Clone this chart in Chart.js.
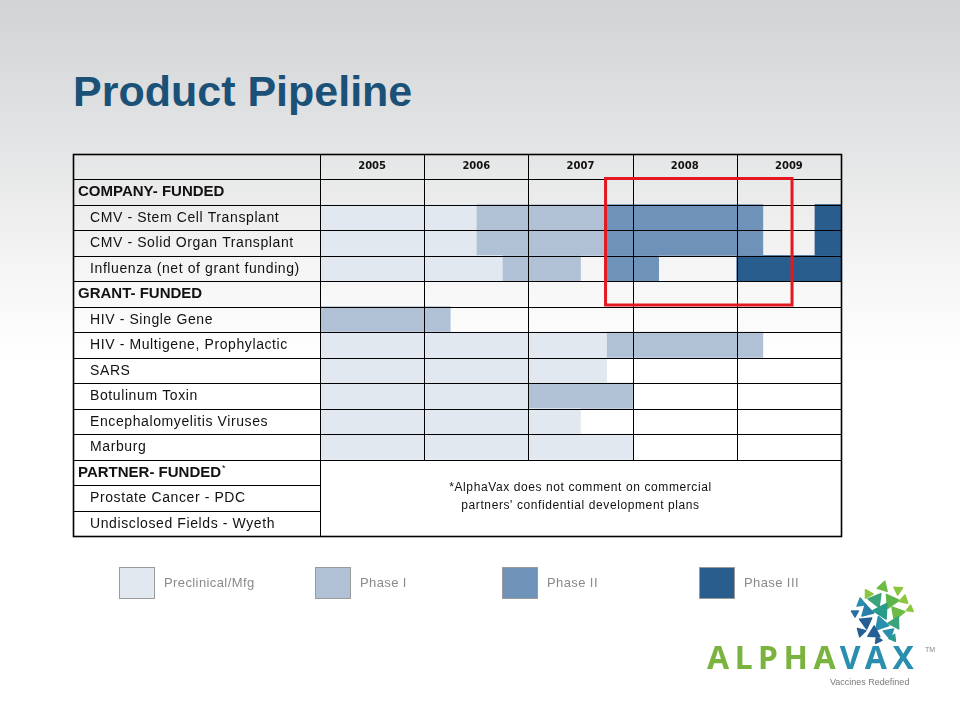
<!DOCTYPE html>
<html>
<head>
<meta charset="utf-8">
<script src="https://cdn.jsdelivr.net/npm/chart.js@4.4.1/dist/chart.umd.min.js"></script>
<style>
html,body{margin:0;padding:0;}
body{width:960px;height:720px;position:relative;overflow:hidden;
  background:linear-gradient(to bottom,#d2d3d5 0px,#e4e5e6 150px,#f4f4f4 260px,#ffffff 360px,#ffffff 720px);
  font-family:"Liberation Sans",Arial,sans-serif;}
#title{position:absolute;left:73px;top:70px;margin:0;font:bold 43px/42px "Liberation Sans",Arial,sans-serif;color:#1c5177;white-space:nowrap;}
#chart{position:absolute;left:0;top:0;}
.lg{position:absolute;top:567px;height:31px;display:flex;align-items:center;}
.lg .box{width:34px;height:30px;border:1px solid #9a9a9a;box-sizing:content-box;}
.lg .txt{margin-left:9px;font:13px "Liberation Sans",Arial,sans-serif;letter-spacing:0.4px;color:#8a8a8a;}
#logo{position:absolute;left:707px;top:641px;width:240px;height:60px;}
#logoText{position:absolute;left:0;top:0;font:bold 32px/32px "Noto Sans",Arial,sans-serif;letter-spacing:5.5px;white-space:nowrap;}
#logoText .g{color:#7ab43f;}
#logoText .b{color:#2a8fae;}
#tm{position:absolute;left:218px;top:5px;font:7px "Liberation Sans",Arial,sans-serif;color:#888;}
#tag{position:absolute;left:123px;top:36px;font:9px "Liberation Sans",Arial,sans-serif;color:#7a7a7a;white-space:nowrap;}
#dots{position:absolute;left:848px;top:578px;}
</style>
</head>
<body>
<h1 id="title">Product Pipeline</h1>
<canvas id="chart" width="960" height="720"></canvas>
<div id="legend"></div>
<svg id="dots" width="70" height="68" viewBox="848 582 70 68"></svg>
<div id="logo"><div id="logoText"><span class="g">ALPHA</span><span class="b">VAX</span></div><div id="tm">TM</div><div id="tag">Vaccines Redefined</div></div>
<script>
// ---------- data ----------
const rowLabels = [
  "COMPANY- FUNDED",
  "CMV - Stem Cell Transplant",
  "CMV - Solid Organ Transplant",
  "Influenza (net of grant funding)",
  "GRANT- FUNDED",
  "HIV - Single Gene",
  "HIV - Multigene, Prophylactic",
  "SARS",
  "Botulinum Toxin",
  "Encephalomyelitis Viruses",
  "Marburg",
  "PARTNER- FUNDED*",
  "Prostate Cancer - PDC",
  "Undisclosed Fields - Wyeth"
];
const sectionRows = [0, 4, 11];
const years = [2005, 2006, 2007, 2008, 2009];
const yearLabels = ["2005", "2006", "2007", "2008", "2009"];
const phaseNames = ["Preclinical/Mfg", "Phase I", "Phase II", "Phase III"];

const preclinical = [null, [2005, 2006.5], [2005, 2006.5], [2005, 2006.75], null, null,
  [2005, 2007.75], [2005, 2007.75], [2005, 2007], [2005, 2007.5], [2005, 2008], null, null, null];
const phase1 = [null, [2006.5, 2007.75], [2006.5, 2007.75], [2006.75, 2007.5], null, [2005, 2006.25],
  [2007.75, 2009.25], null, [2007, 2008], null, null, null, null, null];
const phase2 = [null, [2007.75, 2009.25], [2007.75, 2009.25], [2007.75, 2008.25], null, null,
  null, null, null, null, null, null, null, null];
const phase3 = [null, [2009.75, 2010], [2009.75, 2010], [2009, 2010], null, null,
  null, null, null, null, null, null, null, null];

const noteLines = ["*AlphaVax does not comment on commercial", "partners' confidential development plans"];
const highlight = { from: 2007.75, to: 2009.53, firstRow: 0, lastRow: 4 };

// ---------- styles ----------
const phaseColors = ["#e2e8f0", "#b0c1d6", "#6f92b8", "#295d8e"];
const TABLE_LEFT = 73;

// legend (HTML)
const legendLefts = [119, 315, 502, 699];
const lgRoot = document.getElementById('legend');
phaseNames.forEach((n, i) => {
  const d = document.createElement('div');
  d.className = 'lg';
  d.style.left = legendLefts[i] + 'px';
  d.innerHTML = '<div class="box" style="background:' + phaseColors[i] + '"></div><div class="txt">' + n + '</div>';
  lgRoot.appendChild(d);
});

// logo mark
const dots = [
  [868,598,5,'#8cc63f'],[883,591,6,'#6dbb45'],[898,594,5,'#8cc63f'],
  [861,607,5,'#2a8fae'],[876,604,8,'#3aa37a'],[891,605,8,'#5cb648'],[904,604,5,'#8cc63f'],
  [855,617,4,'#2a6f9e'],[867,615,7,'#2a7fa8'],[882,615,9,'#2a9a8a'],[897,617,8,'#6dbb45'],[910,613,4,'#8cc63f'],
  [866,626,7,'#265f95'],[881,628,8,'#2a8fae'],[895,627,7,'#3aa37a'],
  [861,636,5,'#265f95'],[874,637,7,'#265f95'],[889,637,6,'#2a8fae'],
  [878,644,4,'#265f95'],[893,642,4,'#2a9a8a']
];
const svg = document.getElementById('dots');
let sv = '';
dots.forEach(([cx, cy, r, c], i) => {
  const a = (i * 47) % 360 * Math.PI / 180;
  const p = [0, 1, 2].map(k => {
    const t = a + k * 2 * Math.PI / 3;
    return (cx + r * Math.cos(t)).toFixed(1) + ',' + (cy + r * Math.sin(t)).toFixed(1);
  }).join(' ');
  sv += '<polygon points="' + p + '" fill="' + c + '" stroke="' + c + '" stroke-width="1.5" stroke-linejoin="round"/>';
});
svg.innerHTML = sv;

// ---------- table plugin ----------
const tablePlugin = {
  id: 'pipelineTable',
  afterDatasetsDraw(chart) {
    const { ctx, chartArea: a, scales: { x, y } } = chart;
    const n = rowLabels.length;
    const bound = i => y.getPixelForValue(i - 0.5);
    const rowH = bound(1) - bound(0);
    const top = a.top - rowH;
    const bottom = bound(n);
    const xL = x.getPixelForValue(2005), xR = x.getPixelForValue(2010);
    const partnerTop = bound(11);
    ctx.save();
    ctx.strokeStyle = '#000';
    ctx.lineWidth = 1;
    ctx.beginPath();
    for (let i = 0; i <= n; i++) {
      const yy = Math.round(bound(i)) + 0.5;
      const inPartner = i > 11 && i < n;
      ctx.moveTo(TABLE_LEFT, yy);
      ctx.lineTo(inPartner ? xL : xR, yy);
    }
    const ty = Math.round(top) + 0.5;
    ctx.moveTo(TABLE_LEFT, ty); ctx.lineTo(xR, ty);
    years.forEach(yr => {
      if (yr === 2005) return;
      const xx = Math.round(x.getPixelForValue(yr)) + 0.5;
      ctx.moveTo(xx, ty); ctx.lineTo(xx, Math.round(partnerTop) + 0.5);
    });
    const lx = Math.round(xL) + 0.5;
    ctx.moveTo(lx, ty); ctx.lineTo(lx, bottom);
    ctx.stroke();
    ctx.lineWidth = 1.6;
    ctx.strokeRect(TABLE_LEFT + 0.5, ty, Math.round(xR) - TABLE_LEFT, Math.round(bottom) + 0.5 - ty);

    // header year labels (column centres from the x scale)
    ctx.fillStyle = '#111';
    ctx.textBaseline = 'middle';
    ctx.textAlign = 'center';
    ctx.font = 'bold 10px "DejaVu Sans", sans-serif';
    yearLabels.forEach((lab, i) => {
      ctx.fillText(lab, x.getPixelForValue(years[i] + 0.5), top + rowH / 2);
    });

    // row labels
    ctx.textAlign = 'left';
    rowLabels.forEach((lab, i) => {
      const isSec = sectionRows.includes(i);
      const yc = y.getPixelForValue(i) + 0.5;
      ctx.letterSpacing = isSec ? '0px' : '0.6px';
      ctx.font = (isSec ? 'bold 15px' : '14px') + ' "Liberation Sans", Arial, sans-serif';
      let text = lab, sup = '';
      if (lab.endsWith('*')) { text = lab.slice(0, -1); sup = '*'; }
      const xx = isSec ? TABLE_LEFT + 5 : TABLE_LEFT + 17;
      ctx.fillText(text, xx, yc);
      if (sup) {
        const w = ctx.measureText(text).width;
        ctx.font = '9px "Liberation Sans", Arial, sans-serif';
        ctx.fillText(sup, xx + w + 1, yc - 4);
      }
    });

    // note in merged cell
    ctx.letterSpacing = '0.6px';
    ctx.font = '12px "Liberation Sans", Arial, sans-serif';
    ctx.textAlign = 'center';
    const cx = (xL + xR) / 2;
    const cy = (partnerTop + bottom) / 2;
    ctx.fillText(noteLines[0], cx, cy - 10);
    ctx.fillText(noteLines[1], cx, cy + 8);
    ctx.letterSpacing = '0px';

    // highlight box
    ctx.strokeStyle = '#e3191f';
    ctx.lineWidth = 3;
    const hx1 = x.getPixelForValue(highlight.from) - 1;
    const hx2 = x.getPixelForValue(highlight.to);
    const hy1 = bound(highlight.firstRow) - 0.5;
    const hy2 = bound(highlight.lastRow + 1) - 1.5;
    ctx.strokeRect(hx1, hy1, hx2 - hx1, hy2 - hy1);
    ctx.restore();
  }
};

// ---------- chart ----------
const phaseData = [preclinical, phase1, phase2, phase3];
new Chart(document.getElementById('chart'), {
  type: 'bar',
  data: {
    labels: rowLabels,
    datasets: phaseNames.map((name, i) => ({
      label: name,
      data: phaseData[i],
      backgroundColor: phaseColors[i],
      borderWidth: 0,
      grouped: false,
      barPercentage: 1,
      categoryPercentage: 1
    }))
  },
  options: {
    indexAxis: 'y',
    responsive: false,
    animation: false,
    layout: { padding: { left: 320, right: 119, top: 179, bottom: 184 } },
    plugins: { legend: { display: false }, tooltip: { enabled: false } },
    scales: {
      x: { type: 'linear', min: 2005, max: 2010, display: false },
      y: { type: 'category', display: false, grid: { display: false } }
    }
  },
  plugins: [tablePlugin]
});
</script>
</body>
</html>
